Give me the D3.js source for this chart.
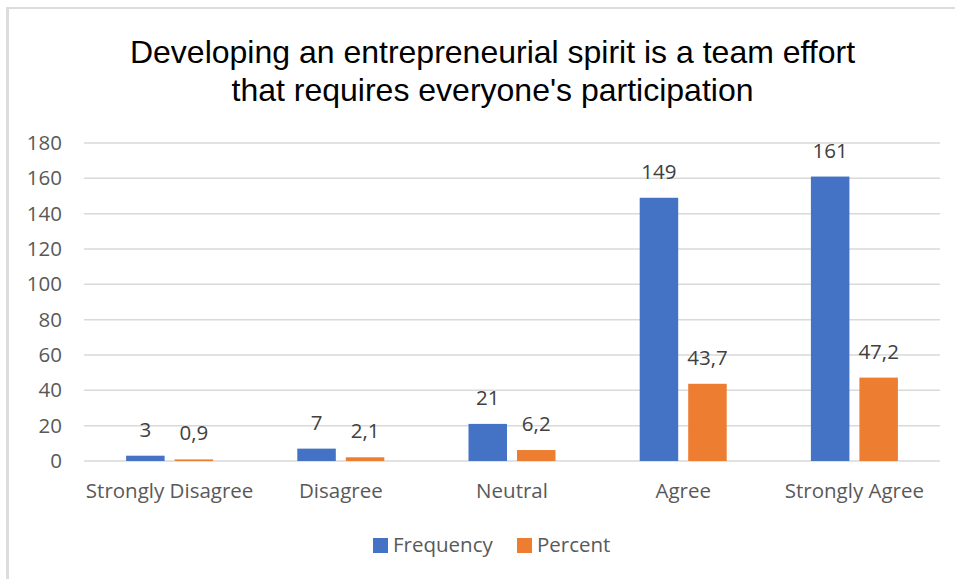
<!DOCTYPE html>
<html>
<head>
<meta charset="utf-8">
<script src="https://cdn.jsdelivr.net/npm/d3@7"></script>
<style>
  html, body { margin: 0; padding: 0; background: #fff; }
  svg { display: block; }
</style>
</head>
<body>
<svg id="chart" width="955" height="579"></svg>
<script>
// Survey responses per answer category
const categories = ["Strongly Disagree", "Disagree", "Neutral", "Agree", "Strongly Agree"];
const seriesNames = ["Frequency", "Percent"];
const frequency = [3, 7, 21, 149, 161];
const percent = [0.9, 2.1, 6.2, 43.7, 47.2];
const yTicks = [0, 20, 40, 60, 80, 100, 120, 140, 160, 180];
const titleLines = ["Developing an entrepreneurial spirit is a team effort",
                    "that requires everyone's participation"];

const colors = { Frequency: "#4472C4", Percent: "#ED7D31" };
const labelFont = "'Open Sans', 'Noto Sans', sans-serif";
const labelSize = 20.5;

const svg = d3.select("#chart");

// Chart frame (top and left edges)
svg.append("line").attr("x1", 6).attr("x2", 955).attr("y1", 8).attr("y2", 8)
  .attr("stroke", "#dcdcdc").attr("stroke-width", 2);
svg.append("line").attr("x1", 7.5).attr("x2", 7.5).attr("y1", 7).attr("y2", 579)
  .attr("stroke", "#dcdcdc").attr("stroke-width", 3);

// Title
svg.append("g").selectAll("text").data(titleLines).join("text")
  .attr("x", 492.5)
  .attr("y", (d, i) => 63 + i * 38)
  .attr("text-anchor", "middle")
  .attr("font-family", "'Liberation Sans', Arial, sans-serif")
  .attr("font-size", 32)
  .attr("fill", "#000")
  .text(d => d);

const plot = { left: 84, right: 940, top: 143, bottom: 461 };

const x0 = d3.scaleBand().domain(categories).range([plot.left, plot.right]).padding(0);
const x1 = d3.scaleBand().domain(seriesNames).range([0, x0.bandwidth()])
  .paddingInner(0.206).paddingOuter(0.868);
const y = d3.scaleLinear().domain([0, 180]).range([plot.bottom, plot.top]);

// Horizontal gridlines
svg.append("g").selectAll("line").data(yTicks).join("line")
  .attr("x1", plot.left).attr("x2", plot.right)
  .attr("y1", d => y(d)).attr("y2", d => y(d))
  .attr("stroke", "#d9d9d9").attr("stroke-width", 1.5);

// Y axis tick labels
const yAxis = svg.append("g")
  .attr("transform", `translate(${plot.left},0)`)
  .call(d3.axisLeft(y).tickValues(yTicks).tickSize(0).tickPadding(22));
yAxis.select(".domain").remove();
yAxis.selectAll("text")
  .attr("font-family", labelFont).attr("font-size", labelSize).attr("fill", "#595959");

// X axis category labels
const xAxis = svg.append("g")
  .attr("transform", `translate(0,${plot.bottom})`)
  .call(d3.axisBottom(x0).tickSize(0));
xAxis.select(".domain").remove();
xAxis.selectAll("text")
  .attr("y", 37).attr("dy", 0)
  .attr("font-family", labelFont).attr("font-size", labelSize).attr("fill", "#595959");

const rows = categories.map((c, i) => ({
  category: c,
  values: [
    { key: "Frequency", value: frequency[i], text: String(frequency[i]) },
    { key: "Percent", value: percent[i], text: String(percent[i]).replace(".", ",") }
  ]
}));

const groups = svg.append("g").selectAll("g").data(rows).join("g")
  .attr("transform", d => `translate(${x0(d.category)},0)`);

groups.selectAll("rect").data(d => d.values).join("rect")
  .attr("x", d => x1(d.key))
  .attr("width", x1.bandwidth())
  .attr("y", d => y(d.value))
  .attr("height", d => y(0) - y(d.value))
  .attr("fill", d => colors[d.key]);

// Value labels above each bar
groups.selectAll("text").data(d => d.values).join("text")
  .attr("x", d => x1(d.key) + x1.bandwidth() / 2)
  .attr("y", d => y(d.value) - 19)
  .attr("text-anchor", "middle")
  .attr("font-family", labelFont).attr("font-size", labelSize).attr("fill", "#404040")
  .text(d => d.text);

// Legend
const legendItems = [
  { key: "Frequency", x: 373 },
  { key: "Percent", x: 517 }
];
const legend = svg.append("g").selectAll("g").data(legendItems).join("g")
  .attr("transform", d => `translate(${d.x},538)`);
legend.append("rect").attr("width", 15).attr("height", 15)
  .attr("fill", d => colors[d.key]);
legend.append("text").attr("x", 20).attr("y", 14)
  .attr("font-family", labelFont).attr("font-size", labelSize).attr("fill", "#595959")
  .text(d => d.key);
</script>
</body>
</html>
